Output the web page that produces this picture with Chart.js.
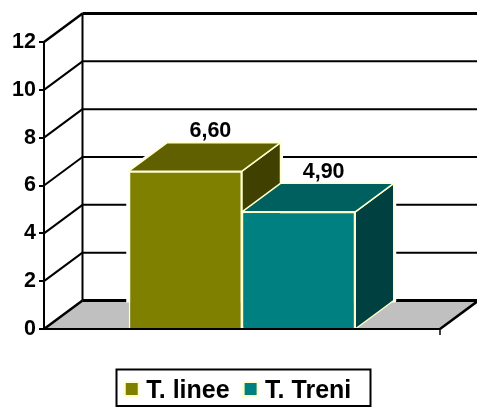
<!DOCTYPE html>
<html><head><meta charset="utf-8">
<style>html,body{margin:0;padding:0;background:#fff;overflow:hidden}canvas{display:block}</style>
<script src="https://cdn.jsdelivr.net/npm/chart.js@4"></script>
</head><body><canvas id="c" width="477" height="408"></canvas>
<script>
const categories = [''];
const seriesNames = ['T. linee', 'T. Treni'];
const lineeValues = [6.6];
const treniValues = [4.9];
const frontColors = ['#808000', '#008080'];
const topColors = ['#606000', '#006060'];
const sideColors = ['#404000', '#004040'];
const edgeColor = '#FFFFCC';
const FAMILY = '"Liberation Sans", Arial, sans-serif';
const FONT = 'bold 21.5px ' + FAMILY;
const DX = 38.5, DY = -28.5;

function poly(ctx, pts, fill, stroke, lw) {
  ctx.beginPath();
  pts.forEach((p, i) => i ? ctx.lineTo(p[0], p[1]) : ctx.moveTo(p[0], p[1]));
  ctx.closePath();
  if (fill) { ctx.fillStyle = fill; ctx.fill(); }
  if (stroke) { ctx.strokeStyle = stroke; ctx.lineWidth = lw; ctx.lineJoin = 'round'; ctx.stroke(); }
}
function seg(ctx, x1, y1, x2, y2, lw) {
  ctx.beginPath(); ctx.moveTo(x1, y1); ctx.lineTo(x2, y2);
  ctx.strokeStyle = '#000'; ctx.lineWidth = lw; ctx.stroke();
}

const plot3d = {
  id: 'plot3d',
  afterLayout(chart) {
    const lg = chart.legend;
    lg.left += 17.5; lg.right += 17.5;
    lg.top += 6; lg.bottom += 6;
  },
  beforeDatasetsDraw(chart) {
    const { ctx, scales: { x, y } } = chart;
    const L = x.left, R = x.right, B = y.getPixelForValue(0);
    ctx.save();
    poly(ctx, [[L, B], [L + DX, B + DY], [R + DX, B + DY], [R, B]], '#C0C0C0');
    seg(ctx, L, B, L + DX, B + DY, 2.5);
    seg(ctx, R, B, R + DX, B + DY, 2.5);
    seg(ctx, L + DX, B + DY, R + DX, B + DY, 3);
    seg(ctx, R, B, R, B + 6, 1.5);
    y.ticks.forEach(t => {
      if (t.value === 0) return;
      const p = y.getPixelForValue(t.value);
      const top = t.value === y.max;
      seg(ctx, L, p, L + DX, p + DY, top ? 2.5 : 2);
      seg(ctx, L + DX, p + DY, R + DX, p + DY, top ? 3 : 2);
    });
    seg(ctx, L + DX, y.getPixelForValue(y.max) + DY, L + DX, B + DY, 2);
    ctx.save();
    ctx.beginPath(); ctx.rect(0, 0, chart.width, B + DY + 2); ctx.clip();
    chart.data.datasets.forEach((d, i) => {
      const b = chart.getDatasetMeta(i).data[0];
      const l = b.x - b.width / 2, r = b.x + b.width / 2;
      poly(ctx, [[l, b.y], [l + DX, b.y + DY], [r + DX, b.y + DY], [r + DX, B + DY], [r, B], [l, B]], '#fff', '#fff', 5);
    });
    ctx.restore();
    chart.data.datasets.forEach((d, i) => {
      const b = chart.getDatasetMeta(i).data[0];
      const l = b.x - b.width / 2, r = b.x + b.width / 2;
      poly(ctx, [[r, b.y], [r + DX, b.y + DY], [r + DX, B + DY], [r, B]], sideColors[i], edgeColor, 1.5);
      poly(ctx, [[l, b.y], [l + DX, b.y + DY], [r + DX, b.y + DY], [r, b.y]], topColors[i], edgeColor, 1.5);
    });
    ctx.restore();
  },
  afterDatasetsDraw(chart) {
    const { ctx, scales: { x, y } } = chart;
    const B = y.getPixelForValue(0);
    ctx.save();
    seg(ctx, x.left, B, x.right, B, 2);
    ctx.fillStyle = '#000'; ctx.font = FONT;
    ctx.textAlign = 'center'; ctx.textBaseline = 'alphabetic';
    chart.data.datasets.forEach((d, i) => {
      const b = chart.getDatasetMeta(i).data[0];
      ctx.fillText(d.data[0].toFixed(2).replace('.', ','), b.x + 25, b.y + DY - 5.5);
    });
    ctx.restore();
  },
  afterDraw(chart) {
    const { ctx, legend: lg } = chart;
    ctx.save();
    ctx.strokeStyle = '#000'; ctx.lineWidth = 2;
    ctx.strokeRect(116.5, 369.5, 254, 36.5);
    lg.legendHitBoxes.forEach((h, i) => {
      ctx.fillStyle = frontColors[i]; ctx.strokeStyle = edgeColor; ctx.lineWidth = 2;
      ctx.fillRect(h.left + 1, 382, 14, 14);
      ctx.strokeRect(h.left + 1, 382, 14, 14);
    });
    ctx.restore();
  }
};

new Chart(document.getElementById('c'), {
  type: 'bar',
  data: {
    labels: categories,
    datasets: [
      { label: seriesNames[0], data: lineeValues, backgroundColor: frontColors[0], borderColor: edgeColor, borderWidth: 1.5 },
      { label: seriesNames[1], data: treniValues, backgroundColor: frontColors[1], borderColor: edgeColor, borderWidth: 1.5 }
    ]
  },
  plugins: [plot3d],
  options: {
    responsive: false,
    animation: false,
    layout: { padding: { left: 0, right: 37, top: 42, bottom: 0 } },
    plugins: {
      tooltip: { enabled: false },
      legend: {
        position: 'bottom',
        onClick: null,
        labels: {
          boxWidth: 10, boxHeight: 10, padding: 13, color: '#000',
          font: { family: FAMILY, size: 25, weight: 'bold' }
        }
      }
    },
    datasets: { bar: { categoryPercentage: 0.572, barPercentage: 1 } },
    scales: {
      x: {
        grid: { display: false }, border: { display: false },
        ticks: { display: false },
        afterFit: s => { s.height = 31; }
      },
      y: {
        min: 0, max: 12,
        ticks: { stepSize: 2, color: '#000', padding: 3, font: { family: FAMILY, size: 21.5, weight: 'bold' } },
        grid: { drawOnChartArea: false, color: '#000', lineWidth: 2, tickLength: 5 },
        border: { color: '#000', width: 2 },
        afterFit: s => { s.width = 44; }
      }
    }
  }
});
</script></body></html>
